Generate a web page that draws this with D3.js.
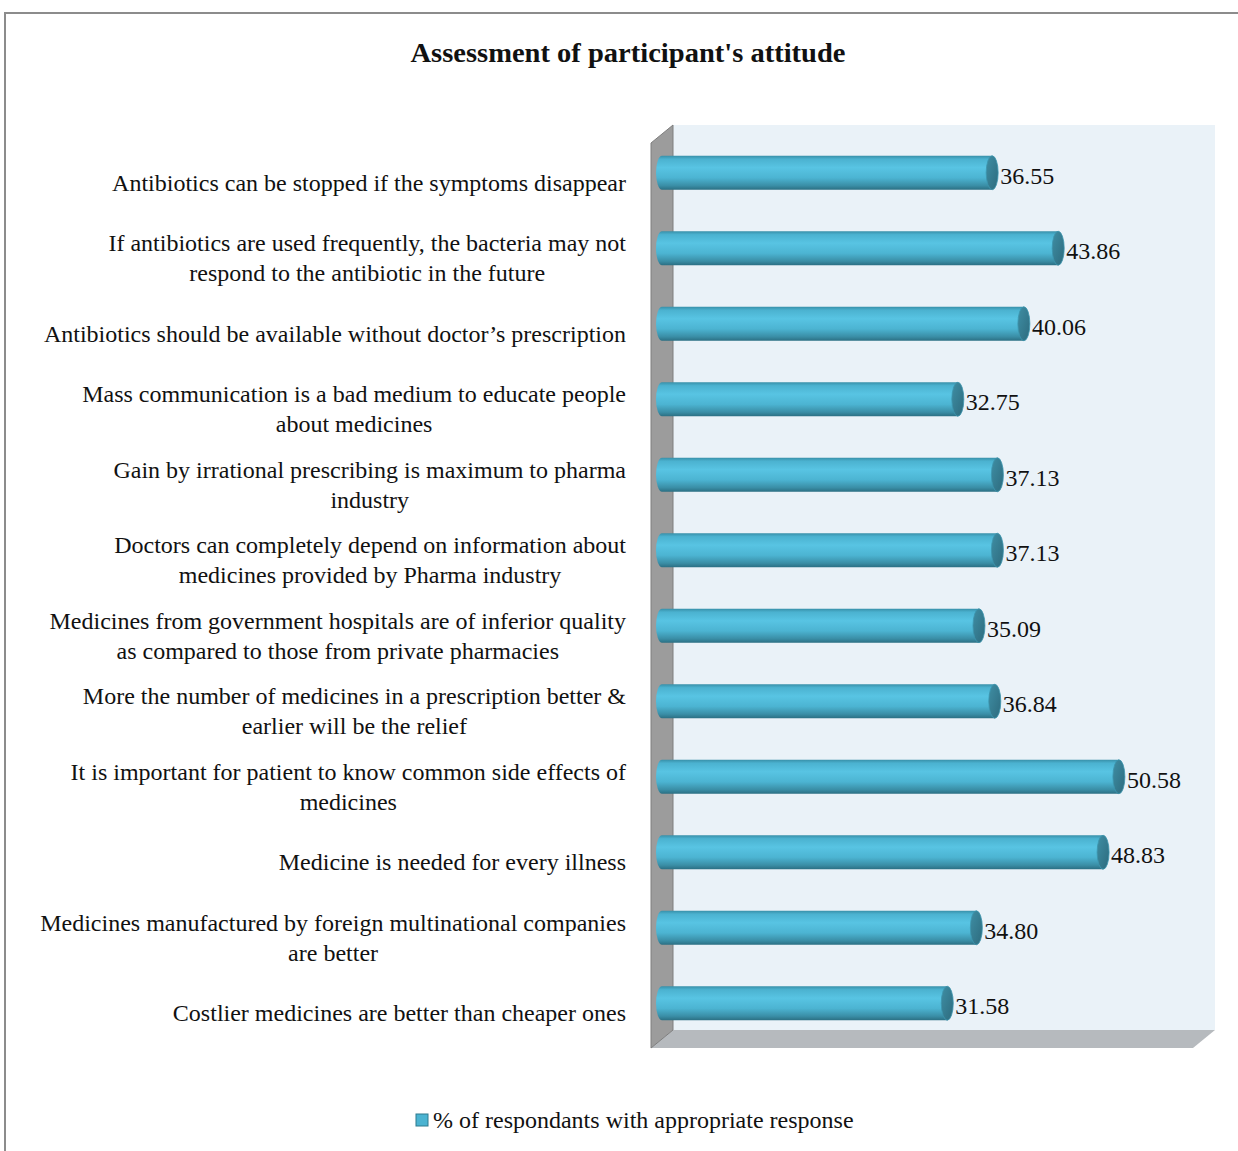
<!DOCTYPE html>
<meta charset="utf-8">
<script src="https://d3js.org/d3.v7.min.js"></script>
<style>
  body { margin: 0; background: #fff; }
  text { font-family: "Liberation Serif", "Times New Roman", serif; fill: #111; }
</style>
<div id="chart"></div>
<script>

// data
var categories = [
  "Antibiotics can be stopped if the symptoms disappear",
  "If antibiotics are used frequently, the bacteria may not\nrespond to the antibiotic in the future",
  "Antibiotics should be available without doctor’s prescription",
  "Mass communication is a bad medium to educate people\nabout medicines",
  "Gain by irrational prescribing is maximum to pharma\nindustry",
  "Doctors can completely depend on information about\nmedicines provided by Pharma industry",
  "Medicines from government hospitals are of inferior quality\nas compared to those from private pharmacies",
  "More the number of medicines in a prescription better &\nearlier will be the relief",
  "It is important for patient to know common side effects of\nmedicines",
  "Medicine is needed for every illness",
  "Medicines manufactured by foreign multinational companies\nare better",
  "Costlier medicines are better than cheaper ones"
];
var values = [36.55, 43.86, 40.06, 32.75, 37.13, 37.13, 35.09, 36.84, 50.58, 48.83, 34.80, 31.58];
var seriesName = "% of respondants with appropriate response";
var title = "Assessment of participant's attitude";

var width = 1238, height = 1151;

// 3d depth of the plot box
var dx = 22, dy = -18;

var svg = d3.select("#chart").append("svg")
  .attr("width", width)
  .attr("height", height);

// outer frame
svg.append("path")
  .attr("d", "M5," + height + " L5,13 L" + width + ",13")
  .attr("fill", "none")
  .attr("stroke", "#8c8c8c")
  .attr("stroke-width", 2);

// title
svg.append("text")
  .attr("x", 628)
  .attr("y", 62)
  .attr("text-anchor", "middle")
  .attr("font-weight", "bold")
  .attr("font-size", 27)
  .attr("textLength", 435)
  .attr("lengthAdjust", "spacingAndGlyphs")
  .text(title);

var x = d3.scaleLinear().domain([0, 60]).range([651, 1193]);
var y = d3.scaleBand().domain(d3.range(categories.length)).range([134, 1040]);

var yTop = 143, yBot = 1048;

// back wall
svg.append("rect")
  .attr("x", x(0) + dx).attr("y", yTop + dy)
  .attr("width", x(60) - x(0)).attr("height", yBot - yTop)
  .attr("fill", "#eaf2f8");

// floor
svg.append("polygon")
  .attr("points", [[x(0), yBot], [x(60), yBot], [x(60) + dx, yBot + dy], [x(0) + dx, yBot + dy]].join(" "))
  .attr("fill", "#b6babe");

// left wall
svg.append("polygon")
  .attr("points", [[x(0), yTop], [x(0) + dx, yTop + dy], [x(0) + dx, yBot + dy], [x(0), yBot]].join(" "))
  .attr("fill", "#9c9c9c")
  .attr("stroke", "#7e7e7e")
  .attr("stroke-width", 1);

// gradients for cylinders
var defs = svg.append("defs");
var grad = defs.append("linearGradient").attr("id", "cyl")
  .attr("x1", 0).attr("y1", 0).attr("x2", 0).attr("y2", 1);
[[0, "#3890a9"], [0.1, "#4bb2d0"], [0.35, "#58c4e3"], [0.65, "#4cb4d2"], [0.88, "#3a8ea6"], [1, "#2b6f83"]]
  .forEach(function(s) { grad.append("stop").attr("offset", s[0]).attr("stop-color", s[1]); });
var capGrad = defs.append("linearGradient").attr("id", "cap")
  .attr("x1", 0).attr("y1", 0).attr("x2", 1).attr("y2", 1);
[[0, "#3f8ea4"], [1, "#2d6b7e"]]
  .forEach(function(s) { capGrad.append("stop").attr("offset", s[0]).attr("stop-color", s[1]); });

var barH = 34, rx = 6, off = dx / 2;

var bars = svg.selectAll(".bar")
  .data(values)
  .enter().append("g")
  .attr("class", "bar")
  .attr("transform", function(d, i) { return "translate(0," + (y(i) + y.bandwidth() / 2 + 1) + ")"; });

bars.append("path")
  .attr("d", function(d) {
    var x0 = x(0) + off, x1 = x(d) + off;
    return "M" + x0 + "," + (-barH / 2) +
      " L" + x1 + "," + (-barH / 2) +
      " L" + x1 + "," + (barH / 2) +
      " L" + x0 + "," + (barH / 2) +
      " A" + rx + "," + (barH / 2) + " 0 0 1 " + x0 + "," + (-barH / 2) + " Z";
  })
  .attr("fill", "url(#cyl)");

bars.append("ellipse")
  .attr("cx", function(d) { return x(d) + off; })
  .attr("cy", 0)
  .attr("rx", rx)
  .attr("ry", barH / 2)
  .attr("fill", "url(#cap)")
  .attr("stroke", "#3c96ae")
  .attr("stroke-width", 0.8);

bars.append("text")
  .attr("x", function(d) { return x(d) + off + rx + 2; })
  .attr("y", 11)
  .attr("font-size", 24)
  .text(function(d) { return d.toFixed(2); });

// category labels: block right aligned, lines centred in the block
var labels = svg.selectAll(".cat")
  .data(categories)
  .enter().append("text")
  .attr("class", "cat")
  .attr("font-size", 24)
  .attr("text-anchor", "middle");

labels.each(function(d, i) {
  var t = d3.select(this);
  var lines = d.split("\n");
  var cy = y(i) + y.bandwidth() / 2 + 11;
  var startY = cy - (lines.length - 1) * 15 + 8;
  var w = 0;
  lines.forEach(function(l, j) {
    var s = t.append("tspan").attr("x", 0).attr("y", startY + j * 30).text(l);
    w = Math.max(w, s.node().getComputedTextLength());
  });
  t.selectAll("tspan").attr("x", 626 - w / 2);
});

// legend
var legend = svg.append("g").attr("transform", "translate(416,1114)");
legend.append("rect")
  .attr("width", 12).attr("height", 12)
  .attr("fill", "#4bb3d1")
  .attr("stroke", "#2f7a8e");
legend.append("text")
  .attr("x", 17).attr("y", 14)
  .attr("font-size", 24)
  .text(seriesName);

</script>
